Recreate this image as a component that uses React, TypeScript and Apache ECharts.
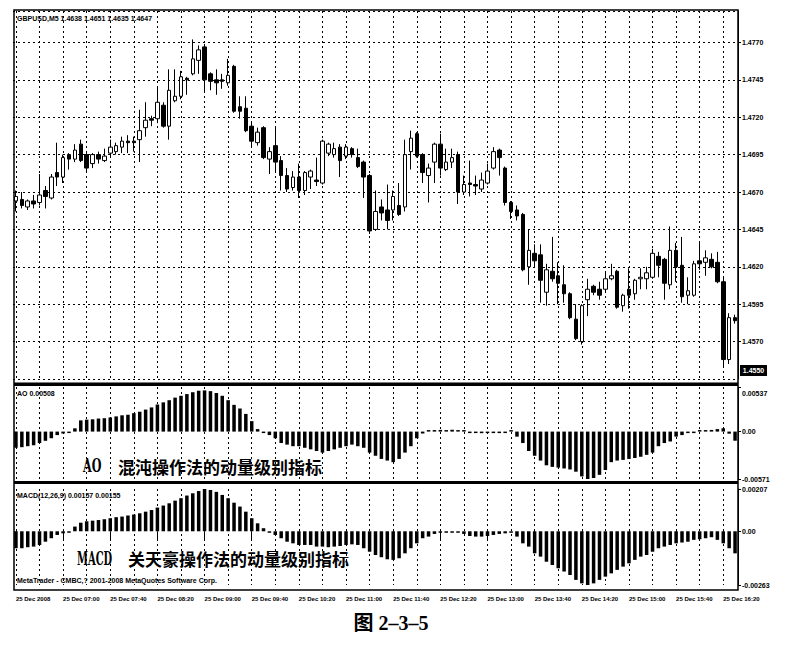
import React, { useEffect, useRef } from "react";
import * as echarts from "echarts";

// ---------- DATA ----------
const opens = [
  1.4664, 1.4665, 1.4660, 1.4664, 1.4663, 1.4671, 1.4666, 1.4683, 1.4680, 1.4695,
  1.4692, 1.4702, 1.4695, 1.4689, 1.4695, 1.4691, 1.4696, 1.4697, 1.4700, 1.4704,
  1.4704, 1.4705, 1.4713, 1.4719, 1.4719, 1.4728, 1.4714, 1.4731, 1.4734, 1.4746,
  1.4749, 1.4758, 1.4767, 1.4749, 1.4745, 1.4745, 1.4743, 1.4754, 1.4727, 1.4726,
  1.4714, 1.4703, 1.4713, 1.4692, 1.4701, 1.4691, 1.4681, 1.4673, 1.4680, 1.4671,
  1.4680, 1.4678, 1.4676, 1.4696, 1.4695, 1.4700, 1.4694, 1.4699, 1.4693, 1.4690,
  1.4681, 1.4645, 1.4660, 1.4658, 1.4658, 1.4661, 1.4660, 1.4697, 1.4709, 1.4695,
  1.4681, 1.4690, 1.4702, 1.4685, 1.4690, 1.4695, 1.4670, 1.4676, 1.4675, 1.4672,
  1.4676, 1.4686, 1.4698, 1.4686, 1.4663, 1.4658, 1.4655, 1.4620, 1.4629, 1.4628,
  1.4603, 1.4617, 1.4614, 1.4608, 1.4602, 1.4585, 1.4570, 1.4598, 1.4607, 1.4605,
  1.4605, 1.4612, 1.4617, 1.4594, 1.4605, 1.4602, 1.4612, 1.4612, 1.4613, 1.4627,
  1.4625, 1.4608, 1.4631, 1.4621, 1.4601, 1.4601, 1.4624, 1.4623, 1.4625, 1.4623,
  1.4610, 1.4558, 1.4586,
];
const closes = [
  1.4667, 1.4661, 1.4664, 1.4662, 1.4668, 1.4667, 1.4680, 1.4680, 1.4693, 1.4692,
  1.4698, 1.4691, 1.4686, 1.4695, 1.4692, 1.4694, 1.4700, 1.4701, 1.4704, 1.4703,
  1.4703, 1.4711, 1.4718, 1.4718, 1.4730, 1.4714, 1.4738, 1.4734, 1.4747, 1.4745,
  1.4759, 1.4765, 1.4745, 1.4744, 1.4743, 1.4744, 1.4748, 1.4724, 1.4724, 1.4711,
  1.4704, 1.4710, 1.4693, 1.4697, 1.4690, 1.4681, 1.4672, 1.4680, 1.4671, 1.4683,
  1.4684, 1.4677, 1.4704, 1.4702, 1.4699, 1.4691, 1.4700, 1.4695, 1.4687, 1.4680,
  1.4644, 1.4657, 1.4656, 1.4651, 1.4667, 1.4655, 1.4695, 1.4706, 1.4694, 1.4683,
  1.4686, 1.4702, 1.4686, 1.4690, 1.4693, 1.4670, 1.4675, 1.4675, 1.4674, 1.4678,
  1.4684, 1.4697, 1.4693, 1.4663, 1.4657, 1.4654, 1.4618, 1.4631, 1.4624, 1.4611,
  1.4618, 1.4612, 1.4609, 1.4602, 1.4586, 1.4572, 1.4594, 1.4605, 1.4603, 1.4601,
  1.4612, 1.4614, 1.4593, 1.4601, 1.4601, 1.4611, 1.4613, 1.4616, 1.4629, 1.4621,
  1.4609, 1.4631, 1.4620, 1.4600, 1.4604, 1.4622, 1.4622, 1.4626, 1.4620, 1.4610,
  1.4558, 1.4586, 1.4584,
];
const lows = [
  1.4657, 1.4659, 1.4658, 1.4659, 1.4661, 1.4659, 1.4665, 1.4674, 1.4676, 1.4685,
  1.4690, 1.4690, 1.4684, 1.4686, 1.4689, 1.4690, 1.4693, 1.4695, 1.4696, 1.4696,
  1.4697, 1.4690, 1.4707, 1.4714, 1.4716, 1.4713, 1.4705, 1.4730, 1.4732, 1.4735,
  1.4748, 1.4749, 1.4737, 1.4738, 1.4735, 1.4739, 1.4741, 1.4723, 1.4719, 1.4710,
  1.4700, 1.4701, 1.4692, 1.4682, 1.4683, 1.4671, 1.4670, 1.4671, 1.4666, 1.4668,
  1.4672, 1.4674, 1.4675, 1.4694, 1.4693, 1.4680, 1.4692, 1.4693, 1.4686, 1.4666,
  1.4642, 1.4644, 1.4651, 1.4645, 1.4651, 1.4654, 1.4657, 1.4685, 1.4693, 1.4676,
  1.4663, 1.4676, 1.4681, 1.4684, 1.4686, 1.4662, 1.4668, 1.4667, 1.4668, 1.4670,
  1.4675, 1.4685, 1.4681, 1.4661, 1.4652, 1.4651, 1.4617, 1.4608, 1.4620, 1.4596,
  1.4594, 1.4610, 1.4595, 1.4596, 1.4585, 1.4571, 1.4568, 1.4587, 1.4601, 1.4598,
  1.4603, 1.4611, 1.4592, 1.4590, 1.4592, 1.4598, 1.4605, 1.4605, 1.4612, 1.4613,
  1.4598, 1.4605, 1.4610, 1.4596, 1.4595, 1.4600, 1.4618, 1.4614, 1.4619, 1.4609,
  1.4553, 1.4555, 1.4582,
];
const highs = [
  1.4671, 1.4670, 1.4665, 1.4668, 1.4682, 1.4674, 1.4682, 1.4703, 1.4695, 1.4696,
  1.4702, 1.4705, 1.4696, 1.4696, 1.4697, 1.4699, 1.4705, 1.4703, 1.4707, 1.4708,
  1.4707, 1.4725, 1.4730, 1.4721, 1.4740, 1.4730, 1.4752, 1.4752, 1.4751, 1.4747,
  1.4772, 1.4768, 1.4769, 1.4750, 1.4752, 1.4749, 1.4759, 1.4755, 1.4734, 1.4734,
  1.4717, 1.4713, 1.4714, 1.4700, 1.4713, 1.4694, 1.4686, 1.4684, 1.4689, 1.4684,
  1.4685, 1.4693, 1.4705, 1.4703, 1.4703, 1.4702, 1.4702, 1.4700, 1.4699, 1.4691,
  1.4682, 1.4671, 1.4665, 1.4675, 1.4671, 1.4676, 1.4705, 1.4711, 1.4710, 1.4696,
  1.4689, 1.4703, 1.4709, 1.4699, 1.4699, 1.4697, 1.4681, 1.4691, 1.4681, 1.4683,
  1.4689, 1.4700, 1.4699, 1.4687, 1.4664, 1.4661, 1.4656, 1.4645, 1.4635, 1.4635,
  1.4622, 1.4640, 1.4623, 1.4621, 1.4603, 1.4595, 1.4595, 1.4612, 1.4608, 1.4610,
  1.4617, 1.4622, 1.4618, 1.4602, 1.4619, 1.4612, 1.4619, 1.4620, 1.4632, 1.4630,
  1.4626, 1.4647, 1.4636, 1.4640, 1.4613, 1.4624, 1.4637, 1.4631, 1.4629, 1.4630,
  1.4613, 1.4589, 1.4588,
];
const aoValues = [
  -0.00195, -0.00188, -0.00176, -0.00165, -0.00138, -0.00111, -0.0008, -0.00042, -0.00023, -0.00011,
  0.00039, 0.00135, 0.00144, 0.00148, 0.00157, 0.00161, 0.0017, 0.00183, 0.00196, 0.00204,
  0.00222, 0.00239, 0.00265, 0.00291, 0.00326, 0.00352, 0.00378, 0.00409, 0.00431, 0.00452,
  0.00474, 0.00492, 0.00496, 0.00487, 0.00465, 0.00431, 0.00378, 0.00322, 0.00278, 0.00213,
  0.00126, 0.0003, -0.00004, -0.00042, -0.0008, -0.00138, -0.00157, -0.00176, -0.00176, -0.00195,
  -0.00214, -0.00234, -0.00253, -0.00234, -0.00214, -0.00195, -0.00176, -0.00157, -0.00176, -0.00195,
  -0.00253, -0.00291, -0.00329, -0.00349, -0.00368, -0.00329, -0.00253, -0.00176, -0.0008, -0.00023,
  0.00008, 0.00012, 0.0002, 0.00015, 0.00022, 0.00018, 0.00004, -0.0001, -0.00015, -0.00019,
  -0.00015, -0.0001, -0.00005, -0.00003, 0.00003, -0.00061, -0.00138, -0.00234, -0.00291, -0.00349,
  -0.00406, -0.00425, -0.00433, -0.00444, -0.00456, -0.00483, -0.0054, -0.00571, -0.00559, -0.00521,
  -0.00463, -0.00368, -0.00349, -0.00341, -0.00329, -0.00318, -0.00303, -0.0028, -0.00253, -0.00176,
  -0.00138, -0.00119, -0.00061, -0.00042, -0.00011, -0.00005, 0.00005, 0.0001, 0.0002, 0.0003,
  0.0004, -0.00025, -0.0011,
];
const macdValues = [
  -0.00083, -0.00083, -0.00078, -0.00075, -0.00067, -0.00051, -0.00034, -0.00018, -0.0001, -0.00003,
  0.00023, 0.00042, 0.00049, 0.00052, 0.00055, 0.00059, 0.00064, 0.00069, 0.00072, 0.00077,
  0.00082, 0.00088, 0.00096, 0.00104, 0.00116, 0.00126, 0.00137, 0.0015, 0.00162, 0.00175,
  0.00186, 0.00197, 0.00207, 0.00202, 0.00193, 0.00178, 0.00162, 0.0014, 0.00121, 0.00096,
  0.00064, 0.00039, 0.00015, -0.00002, -0.00018, -0.00034, -0.00051, -0.00059, -0.00067, -0.00067,
  -0.00067, -0.00075, -0.00075, -0.00078, -0.00075, -0.00072, -0.00067, -0.00064, -0.00067, -0.00083,
  -0.001, -0.00116, -0.00127, -0.00137, -0.0014, -0.00132, -0.00108, -0.00083, -0.00059, -0.00034,
  -0.00026, -0.00013, -0.00007, -0.00003, -0.00002, -0.00007, -0.00013, -0.00023, -0.00026, -0.00026,
  -0.00023, -0.00018, -0.00013, -0.0001, -0.00003, -0.00026, -0.00059, -0.00075, -0.00108, -0.00124,
  -0.00149, -0.00165, -0.00181, -0.00197, -0.00214, -0.00238, -0.00255, -0.00263, -0.00255, -0.00238,
  -0.00222, -0.00206, -0.00189, -0.00173, -0.00157, -0.0014, -0.00124, -0.00116, -0.001, -0.00083,
  -0.00075, -0.00067, -0.00059, -0.00055, -0.00051, -0.00042, -0.00039, -0.00034, -0.00029, -0.00042,
  -0.00059, -0.00083, -0.00108,
];
const timeTickLabels = [
  "25 Dec 2008", "25 Dec 07:00", "25 Dec 07:40", "25 Dec 08:20", "25 Dec 09:00", "25 Dec 09:40",
  "25 Dec 10:20", "25 Dec 11:00", "25 Dec 11:40", "25 Dec 12:20", "25 Dec 13:00", "25 Dec 13:40",
  "25 Dec 14:20", "25 Dec 15:00", "25 Dec 15:40", "25 Dec 16:20",
];
const START_MINUTES = 6 * 60 + 20;
const BAR_MINUTES = 5;
const LABEL_EVERY = 8;

const PRICE_MIN = 1.4545;
const PRICE_MAX = 1.4791;
const PRICE_STEP = 0.0025;
const AO_MIN = -0.00571;
const AO_MAX = 0.00537;
const MACD_MIN = -0.00263;
const MACD_MAX = 0.00207;

const HEADER = "GBPUSD,M5 1.4638 1.4651 1.4635 1.4647";
const AO_LABEL = "AO 0.00508";
const MACD_LABEL = "MACD(12,26,9) 0.00157 0.00155";
const COPYRIGHT = "MetaTrader - CMBC,? 2001-2008 MetaQuotes Software Corp.";
const AO_NOTE_EN = "AO";
const AO_NOTE_CN = "混沌操作法的动量级别指标";
const MACD_NOTE_EN = "MACD";
const MACD_NOTE_CN = "关天豪操作法的动量级别指标";
const CAPTION = "图 2–3–5";
const CURRENT_PRICE = "1.4550";

// ---------- BUILD ----------
const pad2 = (n: number) => String(n).padStart(2, "0");
const categories = opens.map((_, i) => {
  const t = START_MINUTES + i * BAR_MINUTES;
  return `25 Dec ${pad2(Math.floor(t / 60))}:${pad2(t % 60)}`;
});
const candleData = opens.map((o, i) => [o, closes[i], lows[i], highs[i]]);

const SANS = '"Liberation Sans", Arial, sans-serif';
const axisFont = { fontFamily: SANS, fontWeight: "bold" as const, fontSize: 7, color: "#000" };
const smallText = { fontFamily: SANS, fontWeight: "bold" as const, fontSize: 7, fill: "#000", verticalAlign: "middle" as const };
const dotted = { color: "#000", width: 1, type: [2, 3] as any };

const GRID_LEFT = 13;
const GRID_WIDTH = 725;

function xAxisFor(gridIndex: number, withLabels: boolean) {
  return {
    type: "category",
    gridIndex,
    data: categories,
    boundaryGap: true,
    axisLine: { show: false },
    axisTick: withLabels
      ? { show: true, interval: LABEL_EVERY - 1, alignWithLabel: true, length: 8, lineStyle: { color: "#000" } }
      : { show: false },
    axisLabel: withLabels
      ? {
          show: true,
          interval: LABEL_EVERY - 1,
          align: "left",
          margin: 11,
          ...axisFont,
          fontSize: 6,
          formatter: (value: string, index: number) =>
            index % LABEL_EVERY === 0 ? timeTickLabels[index / LABEL_EVERY] ?? value : "",
        }
      : { show: false },
    splitLine: { show: true, interval: 3, alignWithLabel: true, lineStyle: dotted },
  };
}

const indicatorLabel = (v: number) => (Math.abs(v) < 1e-9 ? "0.00" : v.toFixed(5));

const option: any = {
  animation: false,
  backgroundColor: "#fff",
  grid: [
    { left: GRID_LEFT, top: 11, width: GRID_WIDTH, height: 368 },
    { left: GRID_LEFT, top: 387, width: GRID_WIDTH, height: 92 },
    { left: GRID_LEFT, top: 489, width: GRID_WIDTH, height: 96 },
  ],
  xAxis: [xAxisFor(0, false), xAxisFor(1, false), xAxisFor(2, true)],
  yAxis: [
    {
      type: "value",
      gridIndex: 0,
      position: "right",
      min: PRICE_MIN,
      max: PRICE_MAX,
      interval: PRICE_STEP,
      axisLine: { show: true, lineStyle: { color: "#000" } },
      axisTick: { show: true, length: 3, lineStyle: { color: "#000" } },
      axisLabel: {
        ...axisFont,
        margin: 4,
        showMinLabel: false,
        showMaxLabel: false,
        formatter: (v: number) => v.toFixed(4),
      },
      splitLine: { show: true, lineStyle: dotted },
    },
    {
      type: "value",
      gridIndex: 1,
      position: "right",
      min: AO_MIN,
      max: AO_MAX,
      interval: -AO_MIN,
      axisLine: { show: true, lineStyle: { color: "#000" } },
      axisTick: { show: true, length: 3, lineStyle: { color: "#000" } },
      axisLabel: {
        ...axisFont,
        margin: 4,
        formatter: (v: number) => (v > 1e-9 ? `{t|${indicatorLabel(v)}}` : indicatorLabel(v)),
        rich: { t: { ...axisFont, padding: [12, 0, 0, 0] } },
      },
      splitLine: { show: false },
    },
    {
      type: "value",
      gridIndex: 2,
      position: "right",
      min: MACD_MIN,
      max: MACD_MAX,
      interval: -MACD_MIN,
      axisLine: { show: true, lineStyle: { color: "#000" } },
      axisTick: { show: true, length: 3, lineStyle: { color: "#000" } },
      axisLabel: { ...axisFont, margin: 4, formatter: indicatorLabel },
      splitLine: { show: false },
    },
  ],
  series: [
    {
      type: "candlestick",
      xAxisIndex: 0,
      yAxisIndex: 0,
      data: candleData,
      barWidth: 4,
      itemStyle: {
        color: "#fff",
        color0: "#000",
        borderColor: "#000",
        borderColor0: "#000",
        borderColorDoji: "#000",
        borderWidth: 1,
      },
    },
    {
      type: "bar",
      xAxisIndex: 1,
      yAxisIndex: 1,
      data: aoValues,
      barWidth: 3.5,
      barMinHeight: 1.5,
      itemStyle: { color: "#000" },
    },
    {
      type: "bar",
      xAxisIndex: 2,
      yAxisIndex: 2,
      data: macdValues,
      barWidth: 3.5,
      barMinHeight: 1.5,
      itemStyle: { color: "#000" },
    },
  ],
  graphic: [
    { type: "rect", z: 100, silent: true, shape: { x: 14, y: 10, width: 724, height: 580 }, style: { fill: "none", stroke: "#000", lineWidth: 1.5 } },
    { type: "rect", z: 100, silent: true, shape: { x: 14, y: 382.5, width: 724, height: 3.5 }, style: { fill: "#000" } },
    { type: "rect", z: 100, silent: true, shape: { x: 14, y: 481, width: 724, height: 3 }, style: { fill: "#000" } },
    { type: "rect", z: 100, silent: true, shape: { x: 740, y: 365, width: 27, height: 11 }, style: { fill: "#000" } },
    { type: "text", z: 101, silent: true, x: 753.5, y: 370.5, style: { ...smallText, text: CURRENT_PRICE, fill: "#fff", align: "center" } },
    { type: "text", z: 101, silent: true, x: 17, y: 18, style: { ...smallText, text: HEADER } },
    { type: "text", z: 101, silent: true, x: 17, y: 393.5, style: { ...smallText, text: AO_LABEL } },
    { type: "text", z: 101, silent: true, x: 17, y: 495, style: { ...smallText, text: MACD_LABEL } },
    { type: "text", z: 101, silent: true, x: 17, y: 580, style: { ...smallText, text: COPYRIGHT } },
    {
      type: "text", z: 101, silent: true, x: 83, y: 466, scaleX: 0.62,
      style: { text: AO_NOTE_EN, fill: "#000", fontFamily: '"DejaVu Serif", "Liberation Serif", serif', fontWeight: "bold", fontSize: 18, verticalAlign: "middle" },
    },
    {
      type: "text", z: 101, silent: true, x: 118, y: 466,
      style: { text: AO_NOTE_CN, fill: "#000", fontFamily: '"Noto Sans CJK SC", sans-serif', fontWeight: "bold", fontSize: 17, verticalAlign: "middle" },
    },
    {
      type: "text", z: 101, silent: true, x: 77, y: 558, scaleX: 0.55,
      style: { text: MACD_NOTE_EN, fill: "#000", fontFamily: '"DejaVu Serif", "Liberation Serif", serif', fontWeight: "bold", fontSize: 18, verticalAlign: "middle" },
    },
    {
      type: "text", z: 101, silent: true, x: 128, y: 558,
      style: { text: MACD_NOTE_CN, fill: "#000", fontFamily: '"Noto Sans CJK SC", sans-serif', fontWeight: "bold", fontSize: 17, verticalAlign: "middle" },
    },
    {
      type: "text", z: 101, silent: true, x: 391, y: 623,
      style: { text: CAPTION, fill: "#000", fontFamily: '"Liberation Serif", "Noto Sans CJK SC", serif', fontWeight: "bold", fontSize: 20, align: "center", verticalAlign: "middle" },
    },
  ],
};

export default function App() {
  const ref = useRef<HTMLDivElement>(null);
  useEffect(() => {
    if (!ref.current) return;
    const chart = echarts.init(ref.current, undefined, { renderer: "svg" });
    chart.setOption(option);
    return () => chart.dispose();
  }, []);
  return (
    <div
      ref={ref}
      style={{ position: "fixed", left: 0, top: 0, width: 785, height: 646, background: "#fff" }}
    />
  );
}
